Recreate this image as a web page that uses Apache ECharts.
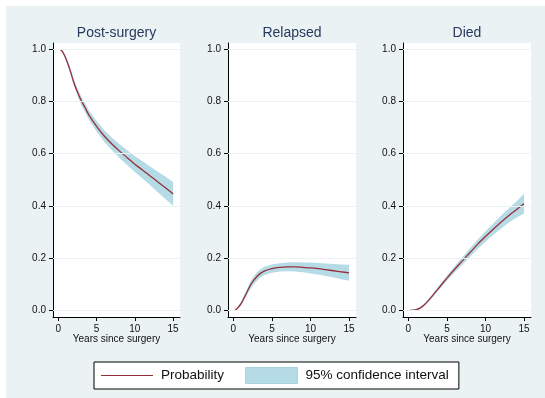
<!DOCTYPE html>
<html>
<head>
<meta charset="utf-8">
<script src="https://cdn.jsdelivr.net/npm/echarts@6/dist/echarts.min.js"></script>
<style>
html, body { margin: 0; padding: 0; background: #fff; }
#chart { position: absolute; left: 6px; top: 6px; width: 539px; height: 392px; }
</style>
</head>
<body>
<div id="chart"></div>
<script>
// years since surgery (shared by all three panels)
var years = [0.2, 0.5, 1, 1.5, 2, 2.5, 3, 3.5, 4, 5, 6, 7, 8, 9, 10, 11, 12, 13, 14, 15];

// Post-surgery
var postEst = [1.0, 0.993, 0.964, 0.923, 0.875, 0.836, 0.803, 0.776, 0.748, 0.705, 0.668, 0.637, 0.610, 0.585, 0.560, 0.538, 0.515, 0.492, 0.470, 0.446];
var postLo  = [1.0, 0.990, 0.957, 0.913, 0.863, 0.822, 0.787, 0.759, 0.730, 0.685, 0.646, 0.613, 0.584, 0.557, 0.530, 0.505, 0.479, 0.453, 0.427, 0.401];
var postHi  = [1.0, 0.996, 0.971, 0.933, 0.887, 0.850, 0.819, 0.793, 0.766, 0.725, 0.690, 0.661, 0.636, 0.613, 0.590, 0.571, 0.551, 0.531, 0.513, 0.491];

// Relapsed
var relEst = [0.0, 0.008, 0.026, 0.055, 0.085, 0.110, 0.128, 0.142, 0.151, 0.160, 0.165, 0.167, 0.167, 0.165, 0.163, 0.160, 0.156, 0.152, 0.148, 0.144];
var relLo  = [0.0, 0.006, 0.020, 0.045, 0.072, 0.095, 0.112, 0.126, 0.135, 0.144, 0.149, 0.150, 0.149, 0.146, 0.142, 0.138, 0.132, 0.126, 0.120, 0.114];
var relHi  = [0.0, 0.010, 0.032, 0.065, 0.098, 0.125, 0.144, 0.158, 0.167, 0.176, 0.181, 0.184, 0.185, 0.184, 0.184, 0.182, 0.180, 0.178, 0.176, 0.175];

// Died
var diedEst = [0.0, 0.001, 0.003, 0.009, 0.020, 0.035, 0.052, 0.070, 0.088, 0.124, 0.158, 0.190, 0.222, 0.254, 0.283, 0.311, 0.338, 0.363, 0.386, 0.409];
var diedLo  = [0.0, 0.000, 0.001, 0.006, 0.016, 0.030, 0.046, 0.063, 0.080, 0.114, 0.146, 0.176, 0.206, 0.236, 0.263, 0.289, 0.313, 0.336, 0.355, 0.371];
var diedHi  = [0.0, 0.002, 0.005, 0.012, 0.024, 0.040, 0.058, 0.077, 0.096, 0.134, 0.170, 0.204, 0.238, 0.272, 0.303, 0.333, 0.363, 0.390, 0.417, 0.447];

var panelTitles = ['Post-surgery', 'Relapsed', 'Died'];
var xTicks = [0, 5, 10, 15];
var yTicks = [0, 0.2, 0.4, 0.6, 0.8, 1.0];

var FONT = 'Liberation Sans, Arial, Helvetica, sans-serif';
var BG = '#EAF2F3';
var BAND = '#B5DCE6';
var LINE = '#962F3B';
var TITLE = '#27395D';

var panels = [
  { est: postEst, lo: postLo, hi: postHi },
  { est: relEst, lo: relLo, hi: relHi },
  { est: diedEst, lo: diedLo, hi: diedHi }
];

// grid positions (chart coords, container is offset 6px)
var gridLeft = [47, 222, 397];
var gridWidth = [127, 128, 128];
var gridTop = 37, gridHeight = 274;

var chart = echarts.init(document.getElementById('chart'));

var grids = [], xAxes = [], yAxes = [], titles = [], series = [];

function bandRenderer(p) {
  return function (params, api) {
    if (params.dataIndex !== 0) return null;
    var pts = [];
    for (var k = 0; k < years.length; k++) pts.push(api.coord([years[k], p.hi[k]]));
    for (var k = years.length - 1; k >= 0; k--) pts.push(api.coord([years[k], p.lo[k]]));
    return {
      type: 'polygon',
      shape: { points: pts },
      style: { fill: BAND, stroke: null }
    };
  };
}

panels.forEach(function (p, i) {
  grids.push({
    left: gridLeft[i], top: gridTop, width: gridWidth[i], height: gridHeight,
    show: true, backgroundColor: '#fff', borderWidth: 0
  });
  titles.push({
    text: panelTitles[i],
    left: gridLeft[i] + gridWidth[i] / 2,
    top: 20,
    textAlign: 'center',
    padding: 0,
    textStyle: { fontSize: 14, fontWeight: 'normal', color: TITLE, fontFamily: FONT }
  });
  xAxes.push({
    gridIndex: i, type: 'value', min: -0.7, max: 15.9,
    axisLine: { show: true, onZero: false, lineStyle: { color: '#000', width: 1 } },
    axisTick: { show: true, length: 4, customValues: xTicks, lineStyle: { color: '#000' } },
    axisLabel: { customValues: xTicks, margin: 7, fontSize: 10, color: '#111', fontFamily: FONT },
    splitLine: { show: false },
    name: 'Years since surgery', nameLocation: 'middle', nameGap: 17, nameMoveOverlap: false,
    nameTextStyle: { fontSize: 10, color: '#111', fontFamily: FONT }
  });
  yAxes.push({
    gridIndex: i, type: 'value', min: -0.025, max: 1.024,
    axisLine: { show: true, onZero: false, lineStyle: { color: '#000', width: 1 } },
    axisTick: { show: true, length: 4, customValues: yTicks, lineStyle: { color: '#000' } },
    axisLabel: {
      customValues: yTicks, margin: 7, fontSize: 10, color: '#111', fontFamily: FONT,
      formatter: function (v) { return v.toFixed(1); }
    },
    splitLine: { show: false }
  });

  // light horizontal gridlines under everything
  series.push({
    name: 'grid' + i, type: 'line', xAxisIndex: i, yAxisIndex: i,
    symbol: 'none', lineStyle: { opacity: 0 }, z: 0, silent: true,
    data: years.map(function (t, k) { return [t, p.est[k]]; }),
    markLine: {
      silent: true, symbol: 'none', label: { show: false },
      lineStyle: { color: BG, type: 'solid', width: 1 },
      data: yTicks.map(function (v) { return { yAxis: v }; })
    }
  });
  series.push({
    name: '95% confidence interval', type: 'custom', xAxisIndex: i, yAxisIndex: i,
    itemStyle: { color: BAND }, z: 2, silent: true,
    renderItem: bandRenderer(p),
    encode: { x: 0, y: [1, 2] },
    data: years.map(function (t, k) { return [t, p.lo[k], p.hi[k]]; })
  });
  series.push({
    name: 'Probability', type: 'line', xAxisIndex: i, yAxisIndex: i,
    symbol: 'none', smooth: 0.3,
    color: LINE, lineStyle: { color: LINE, width: 1.3 }, z: 3,
    data: years.map(function (t, k) { return [t, p.est[k]]; })
  });
});

chart.setOption({
  backgroundColor: BG,
  animation: false,
  title: titles,
  grid: grids,
  xAxis: xAxes,
  yAxis: yAxes,
  legend: {
    left: 88, top: 356,
    orient: 'horizontal',
    itemWidth: 52, itemHeight: 16, itemGap: 21,
    padding: [5, 10, 5, 7],
    borderColor: '#000', borderWidth: 1, backgroundColor: '#fff',
    selectedMode: false,
    textStyle: { fontSize: 13.5, color: '#111', fontFamily: FONT, padding: [0, 0, 0, 3] },
    data: [
      { name: 'Probability', icon: 'path://M0,0L52,0L52,1.2L0,1.2Z', itemStyle: { color: LINE } },
      { name: '95% confidence interval', icon: 'rect', itemStyle: { color: BAND, borderColor: '#A6D2DE', borderWidth: 1 } }
    ]
  },
  series: series
});
</script>
</body>
</html>
